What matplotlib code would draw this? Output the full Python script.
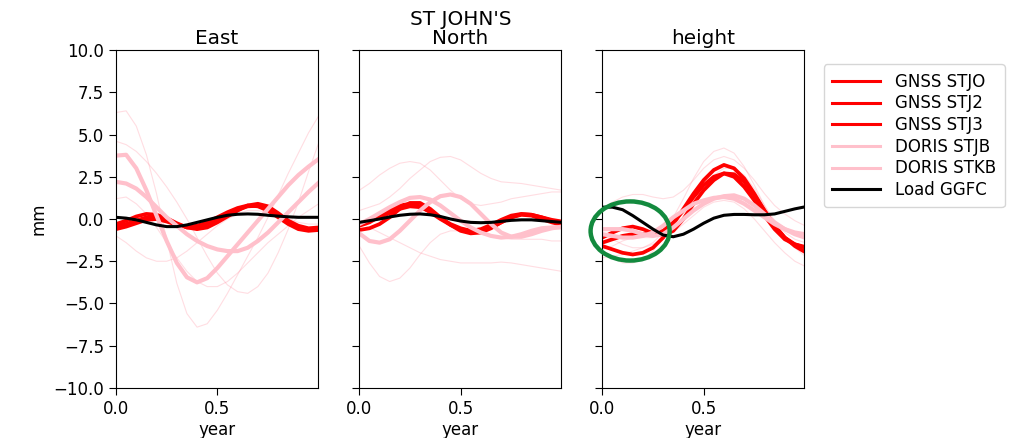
import numpy as np
import matplotlib
matplotlib.use("Agg")
import matplotlib.pyplot as plt
from matplotlib.patches import Ellipse

# Time axis (fraction of a year)
year = [0.00, 0.05, 0.10, 0.15, 0.20, 0.25, 0.30, 0.35, 0.40, 0.45, 0.50,
        0.55, 0.60, 0.65, 0.70, 0.75, 0.80, 0.85, 0.90, 0.95, 1.00]

components = ["East", "North", "height"]
station_title = "ST JOHN'S"

# ---- East component (mm) ----
east_gnss_stjo = [-0.45, -0.3, -0.1, 0.1, 0.12, -0.05, -0.3, -0.5, -0.5, -0.3, 0.0,
                  0.3, 0.55, 0.75, 0.78, 0.6, 0.25, -0.15, -0.45, -0.6, -0.55]
east_gnss_stj2 = [-0.3, -0.1, 0.15, 0.3, 0.25, 0.05, -0.25, -0.5, -0.6, -0.5, -0.2,
                  0.15, 0.5, 0.8, 0.9, 0.75, 0.35, -0.1, -0.4, -0.55, -0.5]
east_gnss_stj3 = [-0.6, -0.45, -0.25, -0.05, 0.0, -0.15, -0.35, -0.45, -0.4, -0.2, 0.1,
                  0.4, 0.65, 0.8, 0.75, 0.5, 0.1, -0.3, -0.6, -0.7, -0.65]
east_doris_stjb = [3.75, 3.8, 3.0, 1.7, 0.2, -1.3, -2.6, -3.45, -3.75, -3.5, -2.9,
                   -2.2, -1.5, -0.8, -0.1, 0.6, 1.3, 2.0, 2.6, 3.1, 3.55]
east_doris_stkb = [2.2, 2.1, 1.8, 1.3, 0.7, 0.1, -0.4, -0.9, -1.3, -1.6, -1.8,
                   -1.9, -1.9, -1.7, -1.3, -0.8, -0.2, 0.4, 1.0, 1.6, 2.15]
east_load = [0.1, 0.05, -0.05, -0.2, -0.35, -0.45, -0.45, -0.35, -0.2, -0.05, 0.1,
             0.22, 0.28, 0.3, 0.28, 0.22, 0.17, 0.13, 0.1, 0.1, 0.1]
east_yearly = [
    [6.3, 6.4, 5.5, 3.8, 1.5, -1.2, -3.8, -5.6, -6.4, -6.2, -5.4,
     -4.4, -3.3, -2.2, -1.1, 0.1, 1.4, 2.7, 3.9, 5.1, 6.1],
    [4.6, 4.4, 4.0, 3.4, 2.7, 1.9, 1.0, 0.0, -1.1, -2.2, -3.2,
     -3.9, -4.3, -4.4, -4.0, -3.2, -2.0, -0.6, 1.0, 2.8, 4.5],
    [1.2, 1.3, 0.9, 0.3, -0.5, -1.4, -2.3, -3.1, -3.7, -4.0, -4.0,
     -3.7, -3.2, -2.6, -2.0, -1.4, -0.9, -0.4, 0.1, 0.5, 0.9],
    [-1.0, -1.4, -1.9, -2.3, -2.5, -2.5, -2.3, -1.9, -1.4, -0.9, -0.4,
     0.0, 0.3, 0.5, 0.5, 0.4, 0.2, 0.0, -0.2, -0.3, -0.3],
]

# ---- North component (mm) ----
north_gnss_stjo = [-0.65, -0.55, -0.3, 0.1, 0.6, 0.95, 0.95, 0.6, 0.1, -0.35, -0.7,
                   -0.85, -0.8, -0.55, -0.2, 0.1, 0.28, 0.25, 0.1, -0.1, -0.25]
north_gnss_stj2 = [-0.4, -0.2, 0.15, 0.5, 0.8, 0.9, 0.75, 0.4, 0.0, -0.35, -0.6,
                   -0.7, -0.6, -0.35, -0.05, 0.2, 0.3, 0.25, 0.1, -0.05, -0.15]
north_gnss_stj3 = [-0.25, -0.1, 0.1, 0.35, 0.6, 0.75, 0.7, 0.45, 0.05, -0.3, -0.55,
                   -0.7, -0.7, -0.5, -0.2, 0.1, 0.25, 0.2, 0.0, -0.2, -0.35]
north_doris_stjb = [-0.85, -1.3, -1.4, -1.2, -0.7, -0.1, 0.5, 1.0, 1.35, 1.45, 1.3,
                    0.9, 0.3, -0.3, -0.8, -1.05, -1.05, -0.9, -0.7, -0.55, -0.45]
north_doris_stkb = [-0.3, 0.0, 0.35, 0.7, 1.0, 1.25, 1.3, 1.15, 0.8, 0.35, -0.1,
                    -0.5, -0.8, -1.0, -1.1, -1.05, -0.9, -0.7, -0.55, -0.5, -0.5]
north_load = [-0.2, -0.1, 0.0, 0.12, 0.22, 0.28, 0.3, 0.25, 0.15, 0.0, -0.12,
              -0.2, -0.22, -0.2, -0.14, -0.08, -0.05, -0.05, -0.1, -0.15, -0.2]
north_yearly = [
    [1.7, 2.1, 2.6, 3.0, 3.3, 3.4, 3.3, 2.9, 2.3, 1.7, 1.2,
     0.9, 0.8, 0.9, 1.0, 1.2, 1.3, 1.4, 1.5, 1.6, 1.6],
    [0.5, 0.7, 0.9, 1.3, 1.8, 2.4, 2.9, 3.4, 3.65, 3.7, 3.5,
     3.1, 2.7, 2.4, 2.2, 2.15, 2.1, 2.0, 1.9, 1.8, 1.7],
    [-1.6, -2.6, -3.4, -3.7, -3.5, -2.9, -2.1, -1.4, -0.9, -0.7, -0.7,
     -0.8, -0.9, -1.0, -1.1, -1.2, -1.2, -1.2, -1.2, -1.3, -1.3],
    [-0.2, -0.5, -0.8, -1.1, -1.4, -1.7, -2.0, -2.2, -2.4, -2.5, -2.6,
     -2.6, -2.6, -2.6, -2.55, -2.6, -2.7, -2.8, -2.9, -3.0, -3.1],
]

# ---- Height component (mm) ----
height_gnss_stjo = [-1.6, -1.8, -2.0, -2.1, -2.0, -1.7, -1.1, -0.3, 0.6, 1.5, 2.3,
                    2.9, 3.2, 3.0, 2.4, 1.5, 0.5, -0.4, -1.1, -1.5, -1.65]
height_gnss_stj2 = [-1.1, -0.8, -0.55, -0.45, -0.6, -0.85, -0.95, -0.7, 0.0, 0.9, 1.7,
                    2.3, 2.7, 2.65, 2.2, 1.4, 0.5, -0.4, -1.1, -1.6, -1.95]
height_gnss_stj3 = [-1.4, -1.2, -1.0, -0.9, -0.9, -0.85, -0.7, -0.2, 0.5, 1.3, 2.0,
                    2.5, 2.7, 2.5, 1.9, 1.1, 0.2, -0.6, -1.2, -1.5, -1.7]
height_doris_stjb = [-0.6, -0.6, -0.6, -0.7, -0.9, -1.0, -0.9, -0.5, 0.0, 0.5, 0.9,
                     1.2, 1.35, 1.4, 1.2, 0.8, 0.3, -0.2, -0.6, -0.9, -1.1]
height_doris_stkb = [-0.9, -1.0, -1.1, -1.1, -1.0, -0.8, -0.4, 0.1, 0.5, 0.9, 1.1,
                     1.25, 1.3, 1.2, 0.9, 0.5, 0.1, -0.3, -0.6, -0.8, -0.9]
height_load = [0.7, 0.7, 0.55, 0.2, -0.2, -0.6, -0.95, -1.05, -0.9, -0.6, -0.25,
               0.05, 0.22, 0.27, 0.27, 0.25, 0.25, 0.3, 0.45, 0.6, 0.72]
height_yearly = [
    [-1.0, -1.2, -1.5, -1.7, -1.7, -1.4, -0.8, 0.1, 1.2, 2.4, 3.4,
     4.0, 4.2, 3.9, 3.1, 2.0, 0.8, -0.3, -1.1, -1.7, -2.0],
    [0.6, 1.0, 1.3, 1.45, 1.45, 1.3, 1.2, 1.3, 1.7, 2.3, 3.0,
     3.5, 3.7, 3.5, 3.0, 2.3, 1.5, 0.8, 0.3, -0.1, -0.4],
    [-2.3, -2.2, -2.1, -1.9, -1.7, -1.5, -1.2, -0.8, -0.3, 0.2, 0.7,
     1.0, 1.1, 1.0, 0.6, 0.0, -0.7, -1.4, -2.0, -2.5, -2.8],
    [-2.0, -2.3, -2.6, -2.6, -2.4, -1.9, -1.1, -0.2, 0.7, 1.5, 2.1,
     2.5, 2.6, 2.4, 1.9, 1.2, 0.4, -0.4, -1.1, -1.7, -2.2],
    [-1.8, -1.6, -1.3, -1.1, -1.1, -1.1, -0.8, -0.2, 0.5, 1.3, 2.0,
     2.6, 3.0, 3.0, 2.6, 1.8, 0.8, -0.1, -0.8, -1.2, -1.4],
]

gnss_names = ["GNSS STJO", "GNSS STJ2", "GNSS STJ3"]
doris_names = ["DORIS STJB", "DORIS STKB"]
load_name = "Load GGFC"

panels = [
    (east_yearly, [east_gnss_stjo, east_gnss_stj2, east_gnss_stj3],
     [east_doris_stjb, east_doris_stkb], east_load),
    (north_yearly, [north_gnss_stjo, north_gnss_stj2, north_gnss_stj3],
     [north_doris_stjb, north_doris_stkb], north_load),
    (height_yearly, [height_gnss_stjo, height_gnss_stj2, height_gnss_stj3],
     [height_doris_stjb, height_doris_stkb], height_load),
]

plt.rcParams["font.family"] = "DejaVu Sans"
plt.rcParams["font.size"] = 12

fig = plt.figure(figsize=(10.23, 4.38), dpi=100)
lefts = [0.1134, 0.3512, 0.5888]
axes = [fig.add_axes([l, 0.1142, 0.1975, 0.7716]) for l in lefts]

handles = []
for i, (ax, (yearly, gnss, doris, load)) in enumerate(zip(axes, panels)):
    # individual-year fits, drawn faintly underneath
    for yr in yearly:
        ax.plot(year, yr, color="#ff8fa0", lw=0.8, alpha=0.3)
    hg = [ax.plot(year, g, color="red", lw=2.7, label=n)[0]
          for g, n in zip(gnss, gnss_names)]
    hd = [ax.plot(year, d, color="pink", lw=3.0, label=n)[0]
          for d, n in zip(doris, doris_names)]
    hl = ax.plot(year, load, color="black", lw=2.2, label=load_name)[0]
    if i == 0:
        handles = hg + hd + [hl]

    ax.set_xlim(0, 0.997)
    ax.set_ylim(-10, 10)
    ax.set_xticks([0.0, 0.5])
    ax.set_yticks(np.arange(-10, 10.1, 2.5))
    ax.set_xlabel("year", labelpad=2)
    ax.tick_params(direction="out", length=5)
    if i == 0:
        ax.set_ylabel("mm")
        ax.set_title(components[i], pad=4)
    else:
        ax.tick_params(labelleft=False)
    if i == 1:
        ax.set_title(station_title + "\n" + components[i], pad=4, linespacing=1.05)
    if i == 2:
        ax.set_title(components[i], pad=4)

# Highlight the early-year height signal
ell = Ellipse((0.137, -0.71), 0.39, 3.5, fill=False, edgecolor="#138a3e",
              lw=3.2, clip_on=False, zorder=10)
axes[2].add_patch(ell)

leg = fig.legend(handles=handles, loc="upper left", bbox_to_anchor=(0.797, 0.872),
                 fontsize=12, handlelength=2.9, handletextpad=0.9, frameon=True,
                 borderpad=0.5, labelspacing=0.22)
for line in leg.get_lines():
    line.set_linewidth(2.2)

fig.savefig("out.png", dpi=100)
